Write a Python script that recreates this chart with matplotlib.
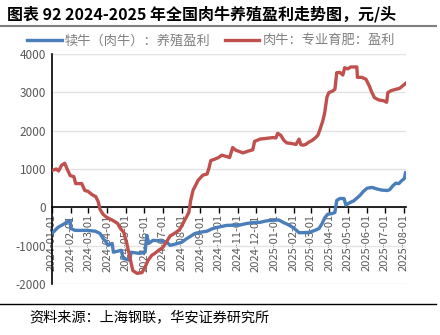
import numpy as np
import pandas as pd
import matplotlib
matplotlib.use("Agg")
import matplotlib.pyplot as plt
import matplotlib.dates as mdates

plt.rcParams['font.family'] = ['Noto Sans CJK SC', 'DejaVu Sans']

# 肉牛：专业育肥：盈利 (元/头)
red_dates = ['2024-01-01', '2024-01-08', '2024-01-12', '2024-01-17', '2024-01-22', '2024-01-26',
             '2024-01-31', '2024-02-06', '2024-02-09', '2024-02-19', '2024-02-24', '2024-02-29',
             '2024-03-07', '2024-03-13', '2024-03-17', '2024-03-20', '2024-03-25', '2024-03-31',
             '2024-04-10', '2024-04-18', '2024-04-23', '2024-04-28', '2024-05-03', '2024-05-08',
             '2024-05-13', '2024-05-20', '2024-05-28', '2024-06-02', '2024-06-07', '2024-06-13',
             '2024-06-18', '2024-06-26', '2024-07-01', '2024-07-08', '2024-07-13', '2024-07-23',
             '2024-07-29', '2024-08-06', '2024-08-13', '2024-08-16', '2024-08-20', '2024-08-23',
             '2024-08-28', '2024-09-05', '2024-09-12', '2024-09-15', '2024-09-18', '2024-09-25',
             '2024-10-01', '2024-10-06', '2024-10-13', '2024-10-19', '2024-10-24', '2024-10-29',
             '2024-11-10', '2024-11-19', '2024-11-26', '2024-11-29', '2024-12-08', '2024-12-19',
             '2024-12-29', '2025-01-03', '2025-01-06', '2025-01-11', '2025-01-16', '2025-01-21',
             '2025-01-27', '2025-02-05', '2025-02-10', '2025-02-13', '2025-02-16', '2025-02-21',
             '2025-02-26', '2025-03-03', '2025-03-08', '2025-03-13', '2025-03-16', '2025-03-21',
             '2025-03-24', '2025-03-28', '2025-03-31', '2025-04-06', '2025-04-10', '2025-04-13',
             '2025-04-18', '2025-04-23', '2025-04-26', '2025-05-01', '2025-05-06', '2025-05-16',
             '2025-05-17', '2025-05-24', '2025-05-31', '2025-06-06', '2025-06-09', '2025-06-14',
             '2025-06-21', '2025-06-29', '2025-07-04', '2025-07-06', '2025-07-11', '2025-07-17',
             '2025-07-25', '2025-07-29', '2025-08-04']
red_vals = [960, 1000, 950, 1100, 1150, 1000,
            830, 800, 620, 620, 440, 420,
            330, 280, 150, -50, -180, -260,
            -340, -420, -560, -650, -940, -1300,
            -1650, -1720, -1700, -1560, -1380, -1250,
            -1200, -1100, -1050, -880, -750, -650,
            -580, -340, -130, 180, 450, 540,
            700, 840, 870, 1020, 1220, 1260,
            1300, 1360, 1330, 1300, 1560, 1490,
            1420, 1470, 1500, 1720, 1780, 1800,
            1820, 1810, 1930, 1880, 1750, 1680,
            1670, 1640, 1780, 1640, 1620, 1640,
            1700, 1740, 1800, 1880, 2010, 2250,
            2450, 2880, 2990, 3030, 3080, 3510,
            3520, 3450, 3640, 3610, 3660, 3660,
            3390, 3390, 3340, 3150, 3020, 2860,
            2800, 2780, 2740, 2990, 3040, 3070,
            3100, 3150, 3230]

# 犊牛（肉牛）：养殖盈利 (元/头)
blue_dates = ['2024-01-01', '2024-01-06', '2024-01-11', '2024-01-19', '2024-01-24', '2024-01-31',
              '2024-02-01', '2024-02-08', '2024-02-27', '2024-03-12', '2024-03-20', '2024-03-25',
              '2024-03-30', '2024-04-02', '2024-04-09', '2024-04-11', '2024-04-24', '2024-04-27',
              '2024-05-08', '2024-05-10', '2024-05-24', '2024-06-02', '2024-06-05', '2024-06-08',
              '2024-06-15', '2024-06-26', '2024-07-08', '2024-07-13', '2024-07-21', '2024-08-01',
              '2024-08-10', '2024-08-23', '2024-08-31', '2024-09-12', '2024-09-20', '2024-09-29',
              '2024-10-14', '2024-11-05', '2024-11-16', '2024-11-26', '2024-12-08', '2024-12-16',
              '2024-12-24', '2025-01-08', '2025-01-16', '2025-01-26', '2025-02-03', '2025-02-10',
              '2025-02-16', '2025-02-28', '2025-03-08', '2025-03-15', '2025-03-20', '2025-03-24',
              '2025-03-29', '2025-04-06', '2025-04-10', '2025-04-13', '2025-04-18', '2025-04-25',
              '2025-04-28', '2025-05-04', '2025-05-11', '2025-05-16', '2025-05-21', '2025-05-27',
              '2025-06-02', '2025-06-10', '2025-06-18', '2025-06-26', '2025-07-05', '2025-07-09',
              '2025-07-14', '2025-07-19', '2025-07-24', '2025-07-29', '2025-08-02', '2025-08-04']
blue_vals = [-680, -600, -520, -450, -400, -340,
             -550, -600, -600, -620, -680, -810,
             -900, -990, -940, -1170, -1120, -1330,
             -1380, -1170, -1200, -1170, -730, -940,
             -860, -870, -910, -990, -960, -910,
             -810, -680, -650, -620, -560, -520,
             -470, -460, -420, -400, -390, -360,
             -340, -330, -400, -470, -560, -660,
             -660, -650, -600, -550, -420, -280,
             -180, -160, -130, 180, 230, 230,
             60, 120, 170, 240, 310, 420,
             500, 520, 480, 450, 440, 460,
             560, 630, 620, 700, 750, 900]

yticks = [-2000, -1000, 0, 1000, 2000, 3000, 4000]
month_ticks = pd.date_range('2024-01-01', '2025-08-01', freq='MS')

red_x = pd.to_datetime(red_dates)
blue_x = pd.to_datetime(blue_dates)

fig = plt.figure(figsize=(4.4, 3.35), dpi=100)
ax = fig.add_axes([0.118, 0.152, 0.805, 0.687])

ax.plot(blue_x, blue_vals, color='#4a7ebb', linewidth=2.4, label='犊牛（肉牛）：养殖盈利',
        solid_joinstyle='round', zorder=3)
ax.plot(red_x, red_vals, color='#c0504d', linewidth=2.4, label='肉牛：专业育肥：盈利',
        solid_joinstyle='round', zorder=3)

ax.set_ylim(-2000, 4000)
ax.set_xlim(pd.Timestamp('2024-01-01'), pd.Timestamp('2025-08-05'))
ax.set_yticks(yticks)
ax.set_yticklabels([str(v) for v in yticks])
ax.grid(axis='y', color='#e3e3e3', linewidth=1)
ax.set_axisbelow(True)

ax.set_xticks(month_ticks)
ax.xaxis.set_major_formatter(mdates.DateFormatter('%Y-%m-%d'))
ax.spines['bottom'].set_position(('data', 0))
ax.spines['top'].set_visible(False)
ax.spines['right'].set_visible(False)
ax.spines['left'].set_linewidth(1.2)
ax.spines['bottom'].set_linewidth(1.2)
ax.tick_params(axis='x', direction='out', length=4, width=1, colors='black',
               labelcolor='#595959', labelsize=8, pad=1, labelrotation=90)
ax.tick_params(axis='y', length=0, labelcolor='#595959', labelsize=8.5, pad=4)

ax.legend(loc='lower center', bbox_to_anchor=(0.45, 1.0), ncol=2, frameon=False,
          fontsize=9.5, labelcolor='#808080', handlelength=2.6, handletextpad=0.25,
          columnspacing=1.1, borderaxespad=0.1)

fig.text(0.016, 0.958, '图表 92 2024-2025 年全国肉牛养殖盈利走势图，元/头', fontsize=11.5,
         fontweight='bold', va='center', ha='left')
fig.add_artist(plt.Line2D([0.0, 0.99], [0.922, 0.922], color='#7f7f7f', linewidth=1.5))
fig.add_artist(plt.Line2D([0.0, 0.99], [0.093, 0.093], color='black', linewidth=1.0))
fig.text(0.066, 0.05, '资料来源：上海钢联，华安证券研究所', fontsize=10.2, va='center', ha='left')

fig.savefig('out.png', dpi=100)
